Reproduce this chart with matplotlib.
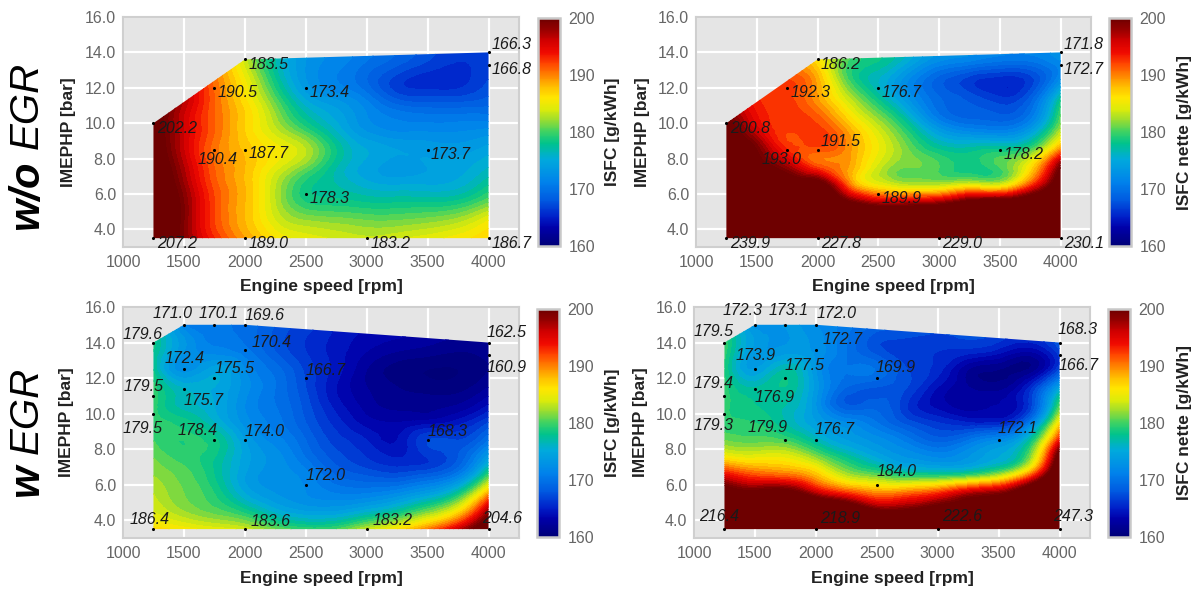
# ISFC maps, with and without EGR
import numpy as np
import matplotlib
matplotlib.use("Agg")
import matplotlib.pyplot as plt
import matplotlib.tri as mtri
from matplotlib.patches import Polygon
from matplotlib.cm import ScalarMappable
from matplotlib.colors import Normalize, LinearSegmentedColormap

plt.rcParams["font.family"] = ["Liberation Sans", "DejaVu Sans"]

W = 1198
H = 589

# grid the colours were read on
speed_grid = [1250, 1500, 1750, 2000, 2250, 2500, 2750, 3000, 3250, 3500, 3750, 4000]
imep_grid = [3.5, 4.5, 5.5, 6.5, 7.5, 8.5, 9.5, 10.5, 11.5, 12.5, 13.5, 15.0]

# w/o EGR, ISFC
map_a = [
    [207, 199, 193, 189, 186, 184.5, 183.8, 183.2, 183.8, 184.5, 185.5, 186.7],
    [207, 199, 192, 188, 184, 182, 181.5, 181, 181, 181.5, 182.5, 185],
    [206, 199, 192, 188, 183, 179, 178.5, 178, 178, 178, 178.5, 181],
    [205, 198, 191.5, 188, 183, 178.5, 177, 175.5, 175, 175, 175.5, 178],
    [204, 197, 191, 188, 184.5, 181, 177, 174.5, 173.5, 174, 174.5, 176],
    [203, 196, 190.4, 187.7, 185.5, 183, 178, 175, 174, 173.7, 173.5, 174.5],
    [202.5, 196, 191, 187, 183.5, 180, 176, 173, 172, 172, 172, 172.5],
    [202, 196, 191, 187, 182, 177, 174.5, 172, 170.5, 170, 170, 170],
    [202, 197, 191, 186, 180, 174.5, 172.5, 170.5, 167.5, 167, 167, 168],
    [200, 196, 190.5, 185, 178, 173, 171, 169, 166.5, 165.5, 165.5, 167],
    [200, 195, 190, 183.5, 177, 173, 171.5, 170, 168.5, 167, 166, 166.8],
    [200, 195, 190, 183.5, 177, 173, 171.5, 170, 168.5, 167, 166, 166.3],
]
# w/o EGR, ISFC nette
map_b = [
    [240, 235, 230, 228, 228, 228.5, 229, 229, 229.5, 230, 230, 230],
    [225, 222, 218, 214, 212, 212, 212, 212, 212, 212, 212, 215],
    [225, 220, 212, 206, 201, 197, 197, 198, 202, 203, 205, 210],
    [218, 212, 205, 203, 191, 185, 183, 183, 184.5, 184, 192, 205],
    [210, 203, 198, 192, 189, 183.5, 181, 180, 178.5, 180, 186, 200],
    [206, 200, 193, 191.5, 189.5, 185, 181, 178, 177.5, 178.2, 180, 190],
    [203, 196, 192, 192.5, 189, 184, 179, 174, 172, 171.5, 174, 183],
    [200, 194, 192.5, 191, 186, 181, 175.5, 170, 168.5, 168, 170, 180],
    [196, 193, 192.3, 189, 183, 177.5, 172.5, 169, 167.5, 166, 168, 177],
    [196, 193, 192, 188.5, 180, 176, 172, 168.5, 166.5, 165.5, 166.5, 172],
    [195, 193, 190, 186.2, 180, 178, 175, 172, 171, 170, 170, 172],
    [195, 193, 190, 186.2, 180, 178, 175, 172, 171, 170, 170, 171.8],
]
# w EGR, ISFC
map_c = [
    [186.4, 185.5, 184.5, 183.6, 181, 179.5, 180, 183.2, 186, 190, 196, 204.6],
    [184, 182, 180.5, 178.5, 175.5, 174, 174, 175.5, 177.5, 181, 186, 198],
    [183, 181, 179, 175, 173, 172, 171, 171, 172, 174, 178, 189],
    [182, 180.5, 178, 174, 172.5, 171.5, 169, 168, 167.5, 168.5, 171, 180],
    [181, 179.5, 178, 174.5, 172.5, 170, 167.5, 166, 165, 166, 168, 174],
    [180, 179, 178.4, 174, 171.5, 169, 166.5, 165, 164, 167, 167, 170],
    [179.5, 178.5, 176, 172.5, 170.5, 168, 165.5, 163.5, 163, 163.5, 164.5, 167],
    [179.5, 176.5, 175, 172, 170, 167.5, 164.5, 162.5, 161.5, 161.5, 162, 164],
    [179.5, 175.7, 175, 172.5, 170, 167, 164, 162, 161, 160.5, 160.5, 162],
    [178, 172.4, 174.5, 172, 169.5, 166.7, 164.5, 162, 160.5, 160, 160, 161],
    [178, 173, 171.5, 170.4, 168, 166, 164.5, 163, 162, 161.5, 161, 161.5],
    [178, 171, 170.1, 169.6, 168, 166.5, 165, 164, 163.5, 163, 162.5, 162.5],
]
# w EGR, ISFC nette
map_d = [
    [216.4, 217, 218, 218.9, 219, 220, 221, 222.6, 226, 232, 240, 247.3],
    [212, 212, 212, 211, 207, 201, 201, 204, 206, 210, 216, 225],
    [204, 202, 203, 197, 193, 190, 191, 193, 197, 199, 206, 216],
    [195, 192, 191, 188, 183, 181, 179, 179, 180, 183, 191, 209],
    [186, 185, 185, 182, 178, 175, 173, 172, 173, 175, 181, 203],
    [181, 180.5, 179.9, 176.7, 174, 172.5, 170.5, 168.5, 170, 172.1, 177, 194],
    [179.3, 179, 177, 174, 172, 170, 167.5, 166, 165, 165, 170, 186],
    [179.4, 178, 177, 173, 168, 168.5, 166, 163.5, 162.5, 163, 166, 180],
    [179.4, 176.9, 178, 173.5, 169, 168, 167, 164, 162, 161.5, 165, 174],
    [179, 173.9, 177, 173, 170, 169.9, 167, 165.5, 162, 161, 161, 167],
    [179.5, 173.5, 173.5, 172.7, 170, 167.5, 166.5, 166, 165.5, 164.5, 163, 166.7],
    [179.5, 172.3, 173.1, 172, 170.5, 169, 168, 167.5, 167, 167, 167, 168.3],
]

# outline of the tested area
outline_x_top = [1250, 4000, 4000, 2000, 1250]
outline_y_top = [3.5, 3.5, 14, 13.6, 10]
outline_x_bot = [1250, 4000, 4000, 2000, 1500, 1250]
outline_y_bot = [3.5, 3.5, 14, 15, 15, 14]

# measured points
pts_x_top = [1250, 2000, 3000, 4000, 2500, 1750, 2000, 3500, 1250, 1750, 2500, 2000, 4000, 4000]
pts_y_top = [3.5, 3.5, 3.5, 3.5, 6, 8.5, 8.5, 8.5, 10, 12, 12, 13.6, 13.3, 14]
vals_a = ["207.2", "189.0", "183.2", "186.7", "178.3", "190.4", "187.7", "173.7", "202.2", "190.5", "173.4", "183.5", "166.8", "166.3"]
vals_b = ["239.9", "227.8", "229.0", "230.1", "189.9", "193.0", "191.5", "178.2", "200.8", "192.3", "176.7", "186.2", "172.7", "171.8"]

pts_x_bot = [1250, 2000, 3000, 4000, 2500, 1750, 2000, 3500, 1250, 1250, 1500, 1500, 1750, 2500, 2000, 1250, 1500, 1750, 2000, 4000, 4000]
pts_y_bot = [3.5, 3.5, 3.5, 3.5, 6, 8.5, 8.5, 8.5, 10, 11, 11.4, 12.5, 12, 12, 13.6, 14, 15, 15, 15, 14, 13.3]
vals_c = ["186.4", "183.6", "183.2", "204.6", "172.0", "178.4", "174.0", "168.3", "179.5", "179.5", "175.7", "172.4", "175.5", "166.7", "170.4", "179.6", "171.0", "170.1", "169.6", "162.5", "160.9"]
vals_d = ["216.4", "218.9", "222.6", "247.3", "184.0", "179.9", "176.7", "172.1", "179.3", "179.4", "176.9", "173.9", "177.5", "169.9", "172.7", "179.5", "172.3", "173.1", "172.0", "168.3", "166.7"]

# label offsets from the point, in pixels
off_a = [(3, -5)] * 14
off_a[5] = (-15, -10)
off_a[6] = (3, -4)
off_a[13] = (3, 8)
off_b = [(3, -5)] * 14
off_b[5] = (-22, -10)
off_b[6] = (3, 8)
off_b[13] = (3, 8)
off_c = [(-21, 10), (5, 8), (5, 9), (-6, 11), (0, 9), (-32, 10), (0, 9), (0, 9), (-27, -15), (-26, 9), (0, -12),
         (-17, 11), (0, 10), (0, 8), (6, 7), (-27, 8), (-27, 11), (-14, 11), (0, 9), (-2, 10), (-2, -13)]
off_d = [(-22, 13), (4, 11), (4, 13), (-6, 13), (0, 13), (-33, 13), (-1, 11), (-1, 12), (-27, -12), (-27, 12), (0, -9),
         (-17, 14), (-1, 13), (-1, 11), (6, 10), (-27, 11), (-28, 14), (-15, 14), (1, 11), (-2, 13), (-1, -11)]

levels = np.arange(160, 201, 1)
grey = "#666666"

# colour bar
cbar_pos = [0, 0.08, 0.125, 0.2, 0.28, 0.38, 0.45, 0.5, 0.55, 0.6, 0.65, 0.7, 0.75, 0.8, 0.85, 0.9, 0.95, 1]
cbar_col = ["#000078", "#0000aa", "#001ec8", "#005ae1", "#0082eb", "#00aadc", "#00c38c", "#3cd264", "#96dc32",
            "#dceb0a", "#ffe600", "#ffbe00", "#ff8200", "#ff4600", "#f00a00", "#d20000", "#960000", "#6e0000"]
isfc_cmap = LinearSegmentedColormap.from_list("isfc", list(zip(cbar_pos, cbar_col)), N=256)


def px_axes(fig, left, top, right, bottom):
    return fig.add_axes([left / W, 1 - bottom / H, (right - left) / W, (bottom - top) / H])


def draw_panel(fig, box, cbox, grid, ox, oy, px, py, vals, offs, cbar_label, cbar_x, ylab_x):
    ax = px_axes(fig, *box)
    ax.set_facecolor("#e5e5e5")
    ax.grid(color="white", linewidth=1.6)
    ax.set_axisbelow(True)
    # smooth the hand read grid for drawing
    gx, gy = np.meshgrid(speed_grid, imep_grid)
    tr = mtri.Triangulation(gx.ravel() / 1000.0, gy.ravel())
    tr_f, z_f = mtri.UniformTriRefiner(tr).refine_field(np.array(grid).ravel(), subdiv=2)
    tr_f = mtri.Triangulation(tr_f.x * 1000.0, tr_f.y, tr_f.triangles)
    cs = ax.tricontourf(tr_f, z_f, levels=levels, cmap=isfc_cmap, extend="both")
    clip = Polygon(np.column_stack([ox, oy]), transform=ax.transData, fill=False, edgecolor="none")
    ax.add_patch(clip)
    cs.set_clip_path(clip)
    ax.scatter(px, py, s=5, color="black", zorder=4, clip_on=False, linewidths=0)
    for x, y, v, o in zip(px, py, vals, offs):
        ax.annotate(v, (x, y), xytext=(o[0] * 0.83, o[1] * 0.72), textcoords="offset points",
                    fontsize=11.5, style="italic", color="#1a1a1a", ha="left", va="center",
                    annotation_clip=False, zorder=5)
    ax.set_xlim(1000, 4250)
    ax.set_ylim(3, 16)
    ax.set_xticks([1000, 1500, 2000, 2500, 3000, 3500, 4000])
    ax.set_yticks([4, 6, 8, 10, 12, 14, 16])
    ax.set_yticklabels(["4.0", "6.0", "8.0", "10.0", "12.0", "14.0", "16.0"])
    ax.tick_params(length=0, labelsize=11.5, labelcolor=grey)
    ax.tick_params(axis="x", pad=6)
    ax.tick_params(axis="y", pad=5)
    for s in ax.spines.values():
        s.set_color("#cfcfcf")
        s.set_linewidth(1.5)
    mid_y = 1 - (box[1] + box[3]) / 2 / H
    fig.text((box[0] + box[2]) / 2 / W, 1 - (box[3] + 40) / H, "Engine speed [rpm]", ha="center", va="center",
             fontsize=12.5, fontweight="bold", color="#222222")
    fig.text(ylab_x / W, mid_y, "IMEPHP [bar]", rotation=90, ha="center", va="center",
             fontsize=12.5, fontweight="bold", color="#222222")

    cax = px_axes(fig, *cbox)
    sm = ScalarMappable(norm=Normalize(160, 200), cmap=isfc_cmap)
    cb = fig.colorbar(sm, cax=cax)
    cb.set_ticks([160, 170, 180, 190, 200])
    cb.ax.tick_params(length=0, labelsize=11.5, labelcolor=grey, pad=6)
    cb.outline.set_edgecolor("#c8c8c8")
    cb.outline.set_linewidth(1.8)
    fig.text(cbar_x / W, mid_y, cbar_label, rotation=90, ha="center", va="center",
             fontsize=12.5, fontweight="bold", color="#222222")
    return ax


fig = plt.figure(figsize=(W / 100, H / 100), dpi=100)

draw_panel(fig, (123, 17, 519, 247), (538, 18, 560, 246), map_a, outline_x_top, outline_y_top,
           pts_x_top, pts_y_top, vals_a, off_a, "ISFC [g/kWh]", 613, 68)
draw_panel(fig, (696, 17, 1091, 247), (1109, 18, 1131, 246), map_b, outline_x_top, outline_y_top,
           pts_x_top, pts_y_top, vals_b, off_b, "ISFC nette [g/kWh]", 1185, 642)
draw_panel(fig, (123, 307, 519, 538), (537, 309, 559, 537), map_c, outline_x_bot, outline_y_bot,
           pts_x_bot, pts_y_bot, vals_c, off_c, "ISFC [g/kWh]", 613, 67)
draw_panel(fig, (694, 307, 1090, 538), (1108, 309, 1130, 537), map_d, outline_x_bot, outline_y_bot,
           pts_x_bot, pts_y_bot, vals_d, off_d, "ISFC nette [g/kWh]", 1185, 640)

# row titles
fig.text(27 / W, 1 - 194 / H, "w/o", rotation=90, ha="center", va="center", fontsize=30, style="italic", fontweight="bold")
fig.text(27 / W, 1 - 105 / H, "EGR", rotation=90, ha="center", va="center", fontsize=29, style="italic")
fig.text(27 / W, 1 - 480 / H, "w", rotation=90, ha="center", va="center", fontsize=30, style="italic", fontweight="bold")
fig.text(27 / W, 1 - 410 / H, "EGR", rotation=90, ha="center", va="center", fontsize=29, style="italic")

fig.savefig("out.png", dpi=100)
